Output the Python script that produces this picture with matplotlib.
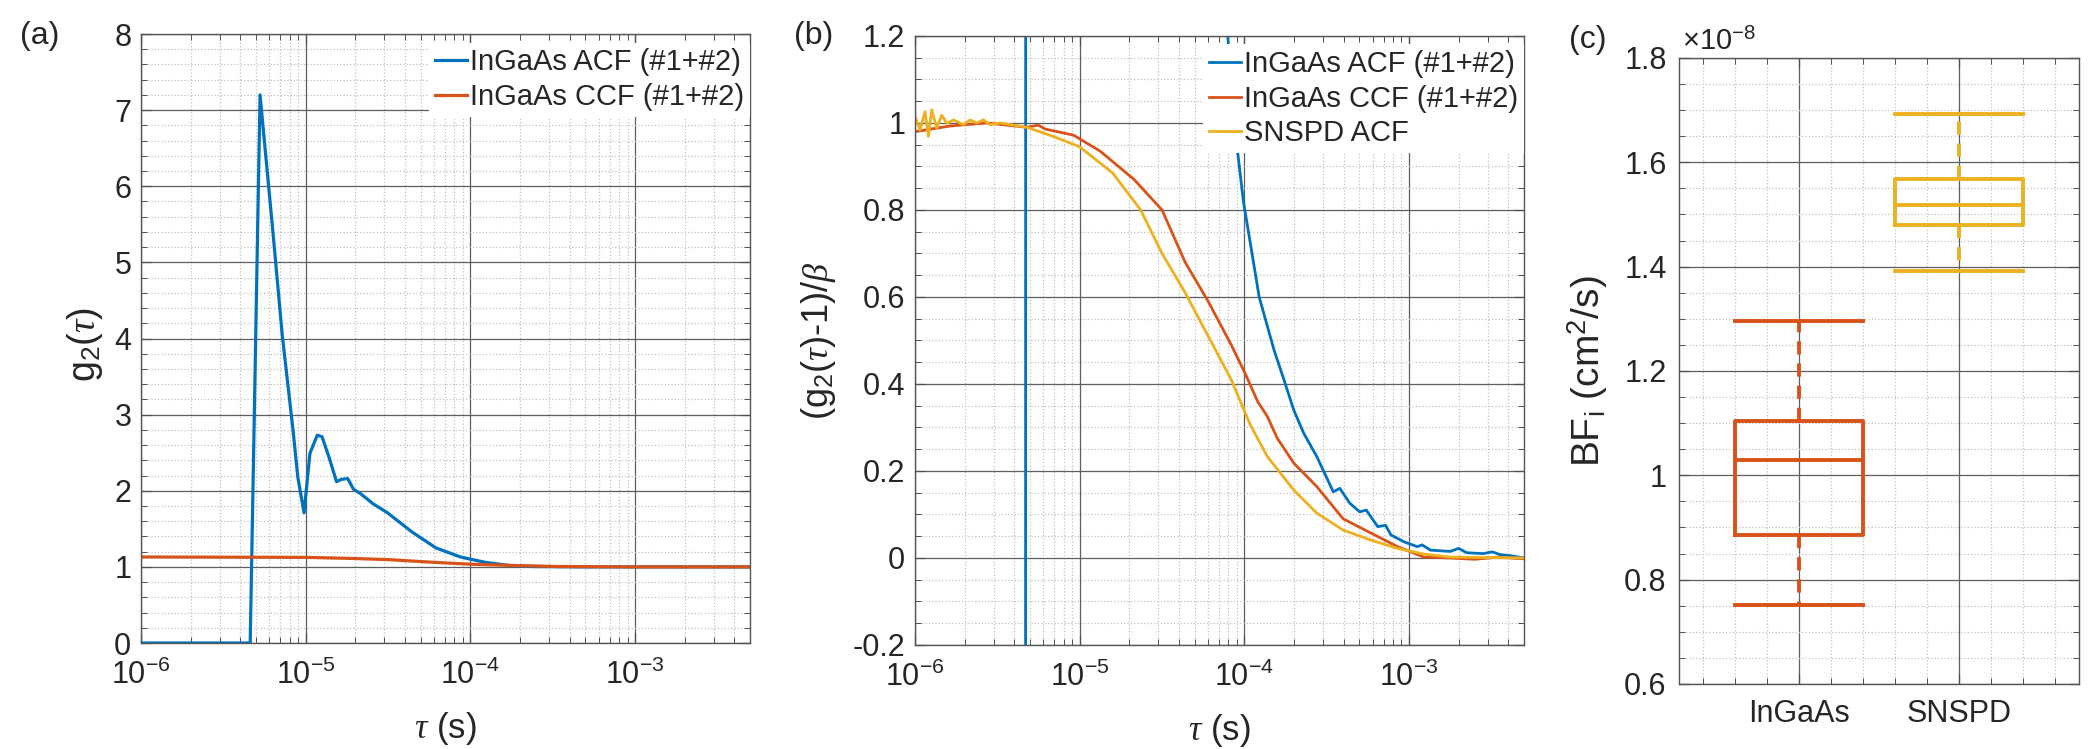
import numpy as np
import matplotlib
matplotlib.use("Agg")
from matplotlib import pyplot as plt
from matplotlib.ticker import FixedLocator, LogLocator, FuncFormatter, NullFormatter, MultipleLocator

plt.rcParams['font.family'] = ['Liberation Sans', 'DejaVu Sans']
plt.rcParams['mathtext.fontset'] = 'custom'
plt.rcParams['mathtext.rm'] = 'Liberation Sans'
plt.rcParams['mathtext.it'] = 'Liberation Serif:italic'
plt.rcParams['mathtext.bf'] = 'Liberation Sans:bold'
plt.rcParams['axes.unicode_minus'] = False

BLUE = '#0072BD'
ORANGE = '#D95319'
YELLOW = '#EDB120'
TXT = '#262626'

### (a) raw g2 ###
tau_a_acf = [1e-6, 4.60e-6, 5.28e-6, 6.37e-6, 7.19e-6, 8.36e-6, 8.95e-6, 9.77e-6, 1.06e-5,
             1.175e-5, 1.256e-5, 1.39e-5, 1.538e-5, 1.648e-5, 1.80e-5, 1.95e-5, 2.16e-5,
             2.56e-5, 3.14e-5, 4.41e-5, 6.17e-5, 8.71e-5, 1.23e-4, 1.70e-4, 2.40e-4,
             4.79e-4, 1e-3, 5e-3]
g2_acf = [0.0, 0.0, 7.20, 5.32, 4.06, 2.81, 2.18, 1.71, 2.49,
          2.73, 2.71, 2.43, 2.12, 2.15, 2.16, 2.02, 1.96,
          1.83, 1.71, 1.46, 1.25, 1.13, 1.06, 1.02, 1.005,
          1.0, 1.0, 1.0]

tau_a_ccf = [1e-6, 1e-5, 2e-5, 3.2e-5, 6e-5, 1e-4, 1.7e-4, 3.4e-4, 1e-3, 5e-3]
g2_ccf = [1.13, 1.125, 1.11, 1.095, 1.06, 1.035, 1.02, 1.005, 1.0, 1.0]

### (b) normalised ###
tau_b_acf = [1e-6, 4.60e-6, 5.28e-6, 1e-5, 3e-5, 6e-5, 7.73e-5, 8.974e-5, 9.863e-5,
             1.23e-4, 1.514e-4, 1.738e-4, 1.995e-4, 2.291e-4, 2.754e-4, 3.467e-4,
             3.8e-4, 4.365e-4, 5.012e-4, 5.5e-4, 6.457e-4, 7.2e-4, 7.762e-4, 9.333e-4,
             1.122e-3, 1.2e-3, 1.349e-3, 1.778e-3, 2.0e-3, 2.239e-3, 2.818e-3, 3.2e-3,
             3.548e-3, 4.169e-3, 5e-3]
norm_acf = [-25.0, -25.0, 150.0, 20.0, 4.0, 1.8, 1.25, 0.953, 0.82,
            0.60, 0.478, 0.41, 0.34, 0.287, 0.233, 0.152,
            0.16, 0.126, 0.106, 0.11, 0.072, 0.075, 0.053, 0.037,
            0.026, 0.03, 0.018, 0.015, 0.022, 0.012, 0.01, 0.014,
            0.008, 0.005, 0.0]

tau_b_ccf = [1e-6, 1.633e-6, 2.729e-6, 4.775e-6, 5.6e-6, 6.166e-6, 9.162e-6, 1.334e-5,
             2.138e-5, 3.162e-5, 4.365e-5, 6.026e-5, 8.318e-5, 1.023e-4, 1.202e-4,
             1.38e-4, 1.585e-4, 1.995e-4, 2.754e-4, 3.981e-4, 5.888e-4, 8.511e-4,
             1.23e-3, 1.778e-3, 2.5e-3, 3.5e-3, 5e-3]
norm_ccf = [0.98, 0.993, 1.0, 0.99, 0.995, 0.986, 0.972, 0.935,
            0.87, 0.80, 0.68, 0.59, 0.49, 0.42, 0.36,
            0.325, 0.275, 0.218, 0.164, 0.09, 0.057, 0.026,
            0.002, 0.0, -0.003, 0.002, -0.002]

tau_b_snspd = [1e-6, 1.072e-6, 1.15e-6, 1.205e-6, 1.262e-6, 1.355e-6, 1.452e-6, 1.56e-6,
               1.71e-6, 1.968e-6, 2.158e-6, 2.371e-6, 2.6e-6, 2.858e-6, 3.289e-6,
               4.775e-6, 6.918e-6, 1e-5, 1.585e-5, 2.344e-5, 3.162e-5, 4.365e-5,
               6.026e-5, 8.318e-5, 1.086e-4, 1.38e-4, 1.995e-4, 2.754e-4, 3.981e-4,
               5.888e-4, 8.511e-4, 1.23e-3, 1.778e-3, 5e-3]
norm_snspd = [1.015, 0.984, 1.026, 0.969, 1.030, 0.988, 1.018, 0.999,
              1.007, 0.996, 1.007, 1.0, 1.007, 0.996, 1.0,
              0.99, 0.969, 0.945, 0.885, 0.80, 0.70, 0.61,
              0.51, 0.41, 0.306, 0.233, 0.156, 0.103, 0.064,
              0.041, 0.022, 0.009, 0.002, 0.0]

### (c) box plot, BF in units of 1e-8 cm^2/s ###
box_labels = ['InGaAs', 'SNSPD']
bf_whislo = [0.752, 1.392]
bf_q1 = [0.886, 1.479]
bf_med = [1.030, 1.518]
bf_q3 = [1.104, 1.568]
bf_whishi = [1.295, 1.692]
box_colors = [ORANGE, YELLOW]


def fmt_g(v, pos):
    return "%g" % round(v, 6)


def style(ax):
    ax.set_axisbelow(True)
    ax.grid(True, which='major', color='#5e5e5e', lw=0.9)
    ax.grid(True, which='minor', color='#c2c2c2', ls=':', lw=0.9)
    ax.tick_params(which='both', direction='in', top=True, right=True,
                   colors='#505050', labelcolor=TXT, labelsize=22)
    ax.tick_params(which='major', length=7, width=0.9)
    ax.tick_params(which='minor', length=4, width=0.7)
    ax.tick_params(axis='x', pad=12)
    ax.tick_params(axis='y', pad=7)
    for sp in ax.spines.values():
        sp.set_color('#555555')
        sp.set_linewidth(1.0)


def log_x(ax):
    ax.set_xscale('log')
    ax.set_xlim(1e-6, 5e-3)
    ax.xaxis.set_major_locator(FixedLocator([1e-6, 1e-5, 1e-4, 1e-3]))
    ax.xaxis.set_minor_locator(LogLocator(base=10, subs=np.arange(2, 10) * 1.0, numticks=30))
    ax.xaxis.set_minor_formatter(NullFormatter())


def legend(ax):
    leg = ax.legend(loc='upper right', bbox_to_anchor=(1, 0.986), borderaxespad=0,
                    fontsize=21, handlelength=1.1, handletextpad=0.1, borderpad=0.2,
                    labelspacing=0.22, fancybox=False, framealpha=1)
    leg.get_frame().set_linewidth(0)
    for t in leg.get_texts():
        t.set_color(TXT)


def tau_label(ax):
    ax.set_xlabel(r'$\tau$ (s)', fontsize=25, color=TXT, va='center')
    ax.xaxis.set_label_coords(0.5, -0.14)


fig = plt.figure(figsize=(20.93, 7.49), dpi=100)

# (a)
ax = fig.add_axes([0.0674, 0.1415, 0.2910, 0.8131])
ax.plot(tau_a_acf, g2_acf, color=BLUE, lw=2.3, label='InGaAs ACF (#1+#2)')
ax.plot(tau_a_ccf, g2_ccf, color=ORANGE, lw=2.3, label='InGaAs CCF (#1+#2)')
log_x(ax)
ax.set_ylim(0, 8)
ax.yaxis.set_major_locator(MultipleLocator(1))
ax.yaxis.set_minor_locator(MultipleLocator(0.2))
ax.yaxis.set_major_formatter(FuncFormatter(fmt_g))
style(ax)
tau_label(ax)
ax.set_ylabel(r'g$_2$($\tau$)', fontsize=27, color=TXT, va='center')
ax.yaxis.set_label_coords(-0.092, 0.49)
legend(ax)

# (b)
ax = fig.add_axes([0.4372, 0.1389, 0.2910, 0.8131])
ax.plot(tau_b_acf, norm_acf, color=BLUE, lw=2.0, label='InGaAs ACF (#1+#2)')
ax.plot(tau_b_ccf, norm_ccf, color=ORANGE, lw=2.0, label='InGaAs CCF (#1+#2)')
ax.plot(tau_b_snspd, norm_snspd, color=YELLOW, lw=2.0, label='SNSPD ACF')
log_x(ax)
ax.set_ylim(-0.2, 1.2)
ax.yaxis.set_major_locator(MultipleLocator(0.2))
ax.yaxis.set_minor_locator(MultipleLocator(0.05))
ax.yaxis.set_major_formatter(FuncFormatter(fmt_g))
style(ax)
tau_label(ax)
ax.set_ylabel(r'(g$_2$($\tau$)-1)/$\beta$', fontsize=26, color=TXT, va='center')
ax.yaxis.set_label_coords(-0.159, 0.5)
legend(ax)

# (c)
ax = fig.add_axes([0.8022, 0.0868, 0.1911, 0.8358])
stats = []
for i in range(len(box_labels)):
    stats.append(dict(label=box_labels[i], whislo=bf_whislo[i], q1=bf_q1[i], med=bf_med[i],
                      q3=bf_q3[i], whishi=bf_whishi[i]))
art = ax.bxp(stats, positions=[1, 2], widths=0.8, capwidths=0.8, showfliers=False,
             boxprops=dict(lw=2.8), medianprops=dict(lw=2.8),
             whiskerprops=dict(lw=2.8, linestyle=(0, (3.4, 2.3))), capprops=dict(lw=2.8))
for i, c in enumerate(box_colors):
    art['boxes'][i].set_color(c)
    art['medians'][i].set_color(c)
    for k in (2 * i, 2 * i + 1):
        art['whiskers'][k].set_color(c)
        art['caps'][k].set_color(c)
ax.set_xlim(0.25, 2.75)
ax.set_ylim(0.6, 1.8)
ax.xaxis.set_minor_locator(MultipleLocator(0.2))
ax.yaxis.set_major_locator(MultipleLocator(0.2))
ax.yaxis.set_minor_locator(MultipleLocator(0.05))
ax.yaxis.set_major_formatter(FuncFormatter(fmt_g))
style(ax)
ax.tick_params(axis='y', pad=9)
ax.tick_params(axis='x', pad=11)
ax.set_ylabel(r'BF$_\mathrm{i}$ (cm$^2$/s)', fontsize=28, color=TXT, va='center')
ax.yaxis.set_label_coords(-0.2275, 0.5)
fig.text(1682 / 2093, 1 - 50 / 749, r'$\times$10$^{-8}$', fontsize=21, color=TXT,
         ha='left', va='baseline')

fig.text(40 / 2093, 1 - 36 / 749, '(a)', fontsize=23, ha='center', va='center', color=TXT)
fig.text(814 / 2093, 1 - 36 / 749, '(b)', fontsize=23, ha='center', va='center', color=TXT)
fig.text(1588 / 2093, 1 - 40 / 749, '(c)', fontsize=23, ha='center', va='center', color=TXT)

fig.savefig('out.png', dpi=100, facecolor='white')
